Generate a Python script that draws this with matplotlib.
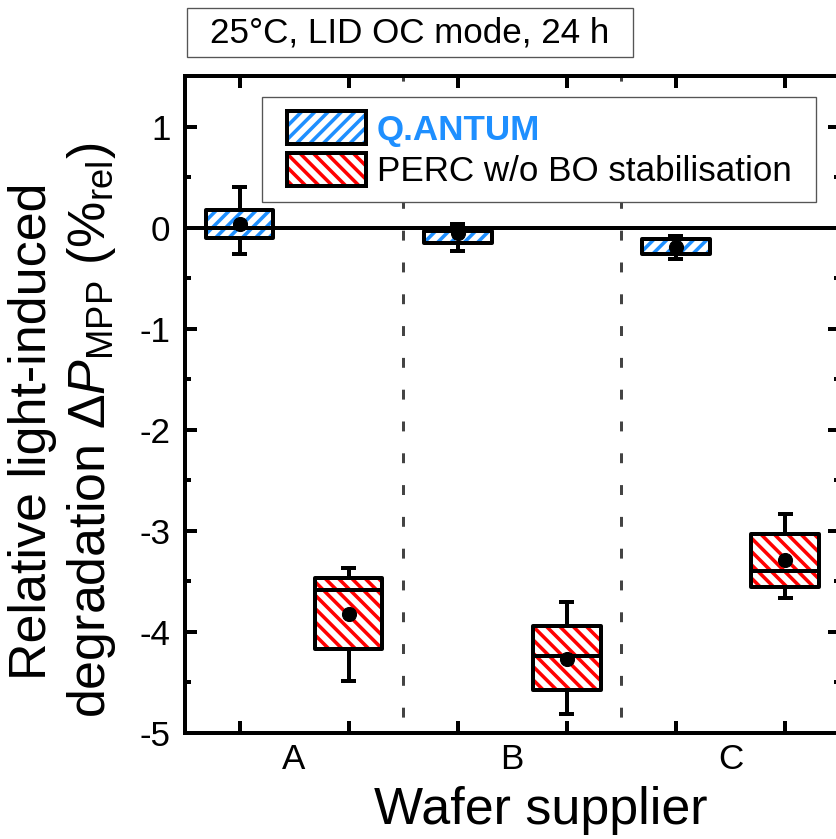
import matplotlib
matplotlib.use('Agg')
import matplotlib.pyplot as plt
from matplotlib.patches import PathPatch, Patch, Rectangle
from matplotlib.legend_handler import HandlerPatch
from matplotlib.ticker import MultipleLocator

plt.rcParams['font.family'] = 'Liberation Sans'
plt.rcParams['mathtext.fontset'] = 'custom'
plt.rcParams['mathtext.rm'] = 'Liberation Sans'
plt.rcParams['mathtext.it'] = 'Liberation Sans:italic'
plt.rcParams['mathtext.bf'] = 'Liberation Sans:bold'
plt.rcParams['axes.unicode_minus'] = False
plt.rcParams['hatch.linewidth'] = 3.2

DPI = 80
BLUE = '#1E8FFF'
RED = '#FF0000'

suppliers = ['A', 'B', 'C']
series = ['Q.ANTUM', 'PERC w/o BO stabilisation']

# relative change of P_MPP in %rel, one value per supplier
qantum_whislo = [-0.26, -0.23, -0.315]
qantum_q1 = [-0.10, -0.155, -0.26]
qantum_med = [0.0, -0.03, -0.11]
qantum_q3 = [0.17, -0.03, -0.11]
qantum_whishi = [0.40, 0.04, -0.085]
qantum_mean = [0.04, -0.055, -0.19]

perc_whislo = [-4.49, -4.81, -3.66]
perc_q1 = [-4.17, -4.57, -3.56]
perc_med = [-3.59, -4.24, -3.40]
perc_q3 = [-3.47, -3.94, -3.03]
perc_whishi = [-3.37, -3.70, -2.83]
perc_mean = [-3.82, -4.27, -3.29]

qantum_pos = [1, 3, 5]
perc_pos = [2, 4, 6]


def draw_boxes(ax, pos, whislo, q1, med, q3, whishi, mean, color, hatch):
    stats = [dict(whislo=a, q1=b, med=c, q3=d, whishi=e, mean=f, fliers=[])
             for a, b, c, d, e, f in zip(whislo, q1, med, q3, whishi, mean)]
    lw = 3.6
    bp = ax.bxp(stats, positions=pos, widths=0.62, capwidths=0.1,
                patch_artist=True, showmeans=True, manage_ticks=False,
                boxprops=dict(facecolor='none', edgecolor='black', linewidth=lw,
                              joinstyle='round'),
                whiskerprops=dict(color='black', linewidth=lw),
                capprops=dict(color='black', linewidth=lw),
                medianprops=dict(color='black', linewidth=lw),
                meanprops=dict(marker='o', markerfacecolor='black',
                               markeredgecolor='black', markersize=12.6),
                zorder=3)
    # hatched fill sits under the black outline
    for box in bp['boxes']:
        ax.add_patch(PathPatch(box.get_path(), transform=box.get_transform(),
                               facecolor='white', edgecolor=color, hatch=hatch,
                               linewidth=0, zorder=2.5))


def inset_patch(legend, orig_handle, xdescent, ydescent, width, height, fontsize):
    # leave a small gap between the legend frame and the swatch
    shift = 9.9
    return Rectangle((-xdescent + shift, -ydescent), width - shift, height)


def main():
    fig = plt.figure(figsize=(836 / DPI, 839 / DPI), dpi=DPI)
    ax = fig.add_axes([185 / 836, 1 - 733 / 839, 654.6 / 836, 657 / 839])

    draw_boxes(ax, qantum_pos, qantum_whislo, qantum_q1, qantum_med, qantum_q3,
               qantum_whishi, qantum_mean, BLUE, '//')
    draw_boxes(ax, perc_pos, perc_whislo, perc_q1, perc_med, perc_q3,
               perc_whishi, perc_mean, RED, '\\\\')

    ax.axhline(0, color='black', linewidth=3.6, zorder=3.5)
    for x in (2.5, 4.5):
        ax.axvline(x, color='#444444', linewidth=2.7, linestyle=(5.3, (3.3, 7.3)),
                   zorder=1)

    ax.set_xlim(0.5, 6.5)
    ax.set_ylim(-5, 1.5)

    ax.set_xticks([1.5, 3.5, 5.5])
    ax.set_xticklabels(suppliers)
    ax.set_xticks(qantum_pos + perc_pos, minor=True)
    ax.yaxis.set_major_locator(MultipleLocator(1))
    ax.yaxis.set_minor_locator(MultipleLocator(0.5))

    ax.tick_params(axis='x', which='major', length=0, pad=9, labelsize=31.5)
    ax.tick_params(axis='x', which='minor', direction='in', length=10.8,
                   width=3.6, top=True, bottom=True)
    ax.tick_params(axis='y', which='major', direction='in', length=10.8,
                   width=3.6, left=True, right=True, labelsize=31.5, pad=13)
    ax.tick_params(axis='y', which='minor', direction='in', length=5.4,
                   width=3.6, left=True, right=True)
    for sp in ax.spines.values():
        sp.set_linewidth(3.6)

    ax.set_xlabel('Wafer supplier', fontsize=46.8)
    ax.xaxis.label.set_va('baseline')
    ax.xaxis.set_label_coords(0.544, -0.1385)

    ax.set_ylabel('Relative light-induced\n'
                  r'degradation $\Delta P_{\mathrm{MPP}}$ $(\%_{\mathrm{rel}})$',
                  fontsize=46.8, linespacing=1.2)
    ax.yaxis.label.set_va('center')
    ax.yaxis.set_label_coords(-0.186, 0.46)

    handles = []
    for color, hatch in ((BLUE, '//'), (RED, '\\\\')):
        shade = Patch(facecolor='white', edgecolor=color, hatch=hatch, linewidth=0)
        frame = Patch(facecolor='none', edgecolor='black', linewidth=3.6,
                      joinstyle='round')
        handles.append((shade, frame))
    leg = ax.legend(handles, series, loc='upper left',
                    bbox_to_anchor=(0.118, 0.5, 0.8463, 0.468), mode='expand',
                    handler_map={Patch: HandlerPatch(patch_func=inset_patch)},
                    fontsize=31.5, frameon=True, fancybox=False, framealpha=1,
                    edgecolor='#555555', handlelength=2.57, handleheight=1.09,
                    handletextpad=0.3, borderpad=0.4, labelspacing=0.17,
                    borderaxespad=0)
    leg.get_frame().set_linewidth(1.2)
    leg.set_zorder(5)
    qtext = leg.get_texts()[0]
    qtext.set_color(BLUE)
    qtext.set_fontweight('bold')

    # condition note above the axes
    fig.patches.append(Rectangle((187 / 836, 1 - 57 / 839), 446 / 836, 49 / 839,
                                 transform=fig.transFigure, facecolor='white',
                                 edgecolor='#555555', linewidth=1.2))
    fig.text(410 / 836, 1 - 33 / 839, '25°C, LID OC mode, 24 h', fontsize=31.5,
             ha='center', va='center')

    fig.savefig('out.png', dpi=DPI)
    plt.close(fig)


if __name__ == '__main__':
    main()
